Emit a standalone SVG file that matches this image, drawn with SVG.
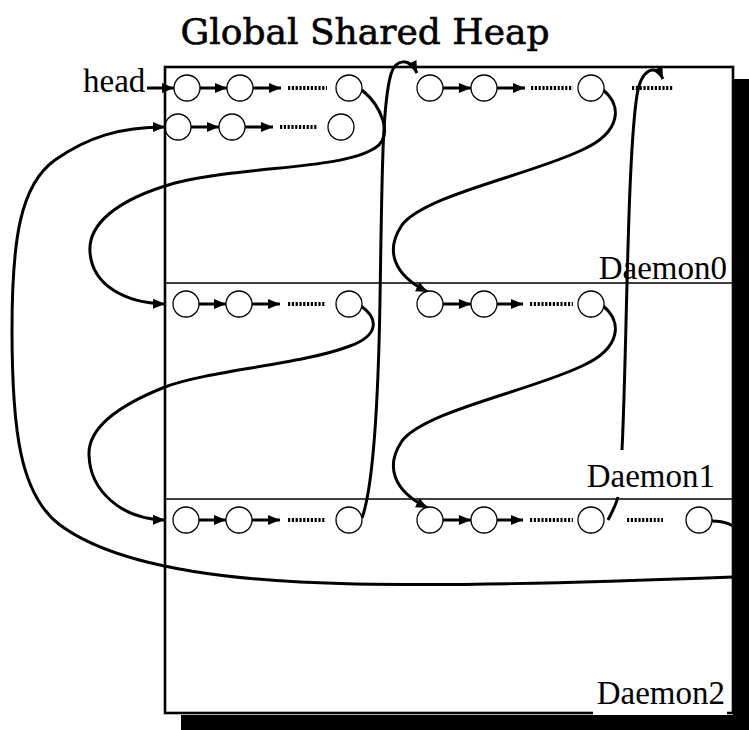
<svg xmlns="http://www.w3.org/2000/svg" width="749" height="730" viewBox="0 0 749 730">
<style>
.node circle{fill:#fff;stroke:#000;stroke-width:1.3}
.ln{fill:none;stroke:#000;stroke-width:3}
.cv{fill:none;stroke:#000;stroke-width:3}
.dots{fill:none;stroke:#000;stroke-width:4;stroke-dasharray:2.2 1.6}
.lbl{font-family:"Liberation Serif","Times New Roman",serif;font-size:33px;fill:#000}
.title{font-family:"DejaVu Serif",serif;font-size:36px;fill:#000;stroke:#000;stroke-width:0.6}
.div{stroke:#000;stroke-width:1.6}
</style>
<defs>
<marker id="ah" markerUnits="userSpaceOnUse" markerWidth="14" markerHeight="12" refX="12" refY="5" orient="auto">
<path d="M0,0 L12,5 L0,10 Z" fill="#000"/>
</marker>
</defs>
<rect width="749" height="730" fill="#fff"/>
<text class="title" x="365" y="44" text-anchor="middle">Global Shared Heap</text>
<rect id="heap" x="165" y="67" width="568" height="646" fill="#fff" stroke="none"/>
<line class="div" x1="165" y1="283" x2="733" y2="283"/>
<line class="div" x1="165" y1="499" x2="733" y2="499"/>
<text class="lbl" x="83" y="92">head</text>
<text class="lbl" x="727" y="279" text-anchor="end">Daemon0</text>
<rect x="585" y="452" width="135" height="45" fill="#fff"/>
<text class="lbl" x="715" y="487" text-anchor="end">Daemon1</text>

<g id="connectors">
<line class="ln" x1="147" y1="88" x2="174" y2="88" marker-end="url(#ah)"/>
<line class="ln" x1="200" y1="88" x2="227" y2="88" marker-end="url(#ah)"/>
<line class="ln" x1="253" y1="88" x2="281" y2="88" marker-end="url(#ah)"/>
<line class="dots" x1="288" y1="88" x2="327" y2="88"/>
<line class="ln" x1="191" y1="127" x2="219" y2="127" marker-end="url(#ah)"/>
<line class="ln" x1="245" y1="127" x2="273" y2="127" marker-end="url(#ah)"/>
<line class="dots" x1="280" y1="127" x2="318" y2="127"/>
<line class="ln" x1="443" y1="88" x2="471" y2="88" marker-end="url(#ah)"/>
<line class="ln" x1="497" y1="88" x2="525" y2="88" marker-end="url(#ah)"/>
<line class="dots" x1="531" y1="88" x2="573" y2="88"/>
<line class="dots" x1="632" y1="88" x2="673" y2="88"/>
<line class="ln" x1="199" y1="304" x2="226" y2="304" marker-end="url(#ah)"/>
<line class="ln" x1="252" y1="304" x2="280" y2="304" marker-end="url(#ah)"/>
<line class="dots" x1="288" y1="304" x2="326" y2="304"/>
<line class="ln" x1="443" y1="304" x2="471" y2="304" marker-end="url(#ah)"/>
<line class="ln" x1="497" y1="304" x2="523" y2="304" marker-end="url(#ah)"/>
<line class="dots" x1="530" y1="304" x2="573" y2="304"/>
<line class="ln" x1="199" y1="520" x2="226" y2="520" marker-end="url(#ah)"/>
<line class="ln" x1="252" y1="520" x2="280" y2="520" marker-end="url(#ah)"/>
<line class="dots" x1="288" y1="520" x2="326" y2="520"/>
<line class="ln" x1="443" y1="520" x2="471" y2="520" marker-end="url(#ah)"/>
<line class="ln" x1="497" y1="520" x2="523" y2="520" marker-end="url(#ah)"/>
<line class="dots" x1="530" y1="520" x2="573" y2="520"/>
<line class="dots" x1="627" y1="520" x2="663" y2="520"/>
<path class="cv" d="M362,90 C380,105 395,135 375,148 C340,170 250,165 175,183 C115,200 88,225 90,252 C92,285 125,303 165,304" marker-end="url(#ah)"/>
<path class="cv" d="M361,306 C378,318 380,335 350,346 C300,365 210,370 165,387 C112,408 88,430 89,455 C90,490 120,519 165,520" marker-end="url(#ah)"/>
<path class="cv" d="M712,521 C740,521 748,540 748,558 C748,572 742,577 733,577 C600,582 420,588 300,582 C200,577 110,562 60,525 C20,495 12,430 12,330 C12,240 20,185 55,160 C88,137 120,127 165,127" marker-end="url(#ah)"/>
<path class="cv" d="M362,518 C372,490 378,420 380,300 C382,180 382,105 391,74 C396,58 410,58 417,73" marker-end="url(#ah)"/>
<path class="cv" d="M603,90 C622,105 622,132 582,150 C530,175 425,195 402,225 C385,250 393,275 428,292" marker-end="url(#ah)"/>
<path class="cv" d="M603,306 C622,321 622,348 582,366 C530,391 425,411 402,441 C385,466 393,491 428,508" marker-end="url(#ah)"/>
<path class="cv" d="M608,520 C612,512 616,505 618,497"/>
<path class="cv" d="M622,450 C627,350 627,160 637,95 C641,70 655,62 663,79" marker-end="url(#ah)"/>
</g>

<g id="n-r1-1" class="node"><circle cx="187" cy="88" r="13"/></g>
<g id="n-r1-2" class="node"><circle cx="240" cy="88" r="13"/></g>
<g id="n-r1-3" class="node"><circle cx="349" cy="88" r="13"/></g>
<g id="n-r2-1" class="node"><circle cx="178" cy="127" r="13"/></g>
<g id="n-r2-2" class="node"><circle cx="232" cy="127" r="13"/></g>
<g id="n-r2-3" class="node"><circle cx="341" cy="127" r="13"/></g>
<g id="n-r1b-1" class="node"><circle cx="430" cy="88" r="13"/></g>
<g id="n-r1b-2" class="node"><circle cx="484" cy="88" r="13"/></g>
<g id="n-r1b-3" class="node"><circle cx="591" cy="88" r="13"/></g>
<g id="n-d0a-1" class="node"><circle cx="186" cy="304" r="13"/></g>
<g id="n-d0a-2" class="node"><circle cx="239" cy="304" r="13"/></g>
<g id="n-d0a-3" class="node"><circle cx="349" cy="304" r="13"/></g>
<g id="n-d0b-1" class="node"><circle cx="430" cy="304" r="13"/></g>
<g id="n-d0b-2" class="node"><circle cx="484" cy="304" r="13"/></g>
<g id="n-d0b-3" class="node"><circle cx="591" cy="304" r="13"/></g>
<g id="n-d1a-1" class="node"><circle cx="186" cy="520" r="13"/></g>
<g id="n-d1a-2" class="node"><circle cx="239" cy="520" r="13"/></g>
<g id="n-d1a-3" class="node"><circle cx="349" cy="520" r="13"/></g>
<g id="n-d1b-1" class="node"><circle cx="430" cy="520" r="13"/></g>
<g id="n-d1b-2" class="node"><circle cx="484" cy="520" r="13"/></g>
<g id="n-d1b-3" class="node"><circle cx="591" cy="520" r="13"/></g>
<g id="n-d1b-4" class="node"><circle cx="699" cy="520" r="13"/></g>

<path d="M733,79 H749 V730 H181 V715 H733 Z" fill="#000"/>
<rect x="165" y="67" width="568" height="646" fill="none" stroke="#000" stroke-width="2.6"/>
<rect x="593" y="678" width="134" height="37" fill="#fff"/>
<text class="lbl" x="725" y="704" text-anchor="end">Daemon2</text>
</svg>
